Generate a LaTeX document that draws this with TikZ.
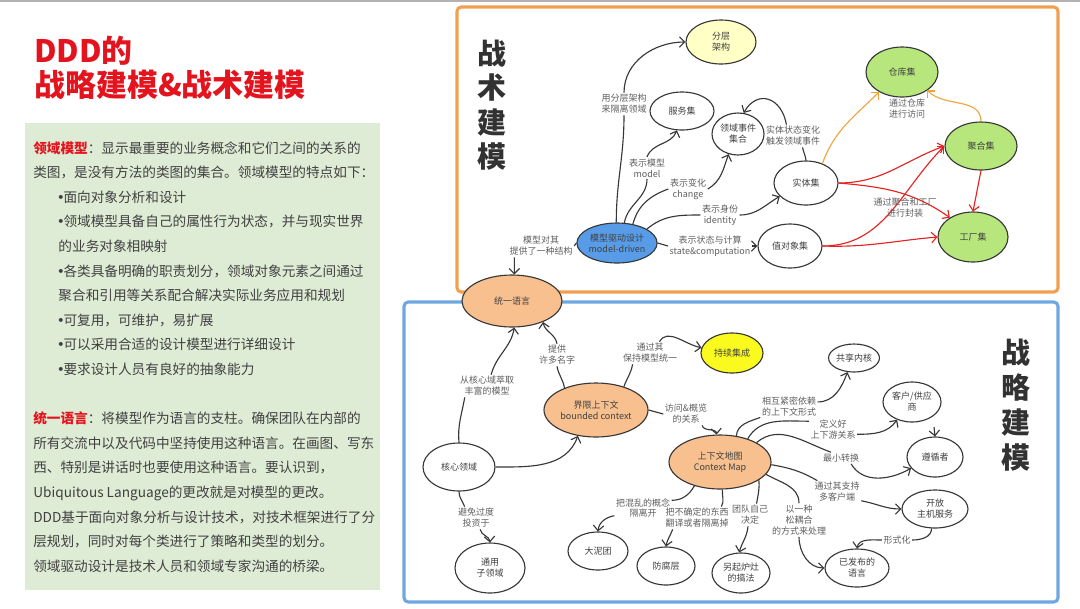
\documentclass[tikz,border=0pt]{standalone}
\usepackage{fontspec}
\setmainfont{Noto Sans CJK SC}
\newfontfamily\dotfont{DejaVu Sans}
\usetikzlibrary{positioning,arrows.meta,shapes.geometric}
\definecolor{titlered}{RGB}{228,20,30}
\definecolor{notegreen}{RGB}{222,236,214}
\definecolor{tacorange}{RGB}{240,160,80}
\definecolor{strblue}{RGB}{111,168,225}
\definecolor{nodeblue}{RGB}{88,156,232}
\definecolor{nodepeach}{RGB}{247,192,142}
\definecolor{nodegreen}{RGB}{182,230,124}
\definecolor{nodecream}{RGB}{255,255,198}
\definecolor{nodeyellow}{RGB}{250,250,30}
\definecolor{linegray}{RGB}{55,55,55}
\definecolor{labgray}{RGB}{95,95,95}
\definecolor{bodytext}{RGB}{64,64,64}
\definecolor{headgray}{RGB}{50,50,50}
\definecolor{redline}{RGB}{232,32,32}
\definecolor{orangeline}{RGB}{240,165,60}
\newcommand\bul{\hspace*{0.63cm}{\dotfont\kern-0.12em•\kern-0.1em}}

\begin{document}
\begin{tikzpicture}[
  x=0.025cm, y=0.025cm,
  sz/.style 2 args={minimum width=#1*0.025cm, minimum height=#2*0.025cm},
  setnode/.style={ellipse, draw=linegray, line width=0.8pt, fill=white,
                  inner sep=0pt, align=center, text=bodytext,
                  font=\fontsize{6.4}{7.8}\selectfont},
  corenode/.style={setnode, fill=nodepeach},
  aggrnode/.style={setnode, fill=nodegreen},
  lbl/.style={font=\fontsize{6.4}{7.8}\selectfont, text=labgray,
              align=center, inner sep=1pt},
  link/.style={line width=0.8pt, draw=linegray},
  arr/.style={link, -{Straight Barb[length=1.3mm,width=2.6mm]}},
  redarr/.style={arr, draw=redline},
  orgarr/.style={arr, draw=orangeline},
  vtitle/.style={font=\fontsize{20.6}{24.4}\selectfont\bfseries,
                 text=headgray, align=center, inner sep=0pt}
]
  \useasboundingbox (0,0) rectangle (1080,-608);
  \fill[white] (0,0) rectangle (1080,-608);
  \draw[black!30, line width=1pt] (0,-1) -- (1080,-1);

  % Left column
  \node[anchor=north west, inner sep=0pt, align=left, text=titlered,
        font=\fontsize{22}{23.8}\selectfont\bfseries] (title) at (34,-36)
    {DDD的\\战略建模\&战术建模};
  \fill[notegreen] (25,-123) rectangle (380,-590);
  \node[anchor=north west, inner sep=0pt, align=left, text=bodytext,
        font=\fontsize{9.7}{17.5}\selectfont] (notes) at (33,-141)
    {{\color{titlered}\bfseries 领域模型}：显示最重要的业务概念和它们之间的关系的\\
     类图，是没有方法的类图的集合。领域模型的特点如下：\\
     \bul 面向对象分析和设计\\
     \bul 领域模型具备自己的属性行为状态，并与现实世界\\
     \hspace*{0.63cm}的业务对象相映射\\
     \bul 各类具备明确的职责划分，领域对象元素之间通过\\
     \hspace*{0.63cm}聚合和引用等关系配合解决实际业务应用和规划\\
     \bul 可复用，可维护，易扩展\\
     \bul 可以采用合适的设计模型进行详细设计\\
     \bul 要求设计人员有良好的抽象能力\\[17.5pt]
     {\color{titlered}\bfseries 统一语言}：将模型作为语言的支柱。确保团队在内部的\\
     所有交流中以及代码中坚持使用这种语言。在画图、写东\\
     西、特别是讲话时也要使用这种语言。要认识到，\\
     Ubiquitous Language的更改就是对模型的更改。\\
     DDD基于面向对象分析与设计技术，对技术框架进行了分\\
     层规划，同时对每个类进行了策略和类型的划分。\\
     领域驱动设计是技术人员和领域专家沟通的桥梁。};

  % Frames
  \draw[tacorange, line width=2.2pt, rounded corners=3pt] (457,-7) rectangle (1058,-292);
  \draw[strblue, line width=2.2pt, rounded corners=3pt] (404,-302) rectangle (1058,-602);
  \node[vtitle] (tactic) at (492,-105) {战\\术\\建\\模};
  \node[vtitle, font=\fontsize{20.6}{25}\selectfont\bfseries] (strategy) at (1016,-405) {战\\略\\建\\模};

  % Tactical sets
  \node[setnode, sz={70}{44}, fill=nodecream] (layer) at (721,-42) {分层\\架构};
  \node[setnode, sz={64}{38}] (service) at (682,-111) {服务集};
  \node[setnode, sz={52}{42}] (events) at (738,-134) {领域事件\\集合};
  \node[setnode, sz={64}{44}] (entity) at (806,-183) {实体集};
  \node[setnode, sz={64}{44}] (value) at (790,-246) {值对象集};
  \node[setnode, sz={70}{40}, fill=nodeblue] (mdd) at (617,-243) {模型驱动设计\\model-driven};
  \node[aggrnode, sz={72}{50}] (repo) at (902,-72) {仓库集};
  \node[aggrnode, sz={72}{48}] (aggr) at (981,-146) {聚合集};
  \node[aggrnode, sz={70}{50}] (factory) at (973,-237) {工厂集};
  \node[corenode, sz={100}{52}] (ubiq) at (512,-301) {统一语言};

  \node[lbl] (lLayer) at (624,-104) {用分层架构\\来隔离领域};
  \node[lbl] (lModel) at (647,-168) {表示模型\\model};
  \node[lbl] (lChange) at (688,-189) {表示变化\\change};
  \node[lbl] (lIdent) at (720,-215) {表示身份\\identity};
  \node[lbl] (lState) at (710,-246) {表示状态与计算\\state\&computation};
  \node[lbl] (lStruct) at (541,-246) {模型对其\\提供了一种结构};
  \node[lbl] (lTrigger) at (793,-136) {实体状态变化\\触发领域事件};
  \node[lbl] (lRepo) at (907,-109) {通过仓库\\进行访问};

  \draw[link] (mdd.92) to[out=90,in=-90] (lLayer.south);
  \draw[arr] (lLayer.north) to[out=90,in=180] (layer.west);
  \draw[link] (mdd.70) to[out=80,in=-90] (lModel.south);
  \draw[arr] (lModel.north) to[out=70,in=-110] (service.-105);
  \draw[link] (mdd.50) to[out=75,in=200] (lChange.west);
  \draw[arr] (lChange.east) to[out=30,in=-110] (events.-115);
  \draw[link] (mdd.25) to[out=40,in=180] (lIdent.west);
  \draw[arr] (lIdent.east) to[out=0,in=-150] (entity.-153);
  \draw[link] (mdd.east) -- (lState.west);
  \draw[arr] (lState.east) -- (value.west);
  \draw[link] (mdd.west) -- (lStruct.east);
  \draw[arr] (lStruct.203) -- (ubiq.85);
  \draw[link] (entity.north) to[out=95,in=-80] (lTrigger.-50);
  \draw[arr] (lTrigger.120) to[out=100,in=60,looseness=1.6] (events.75);
  \draw[orgarr] (entity.50) to[out=70,in=-135] (repo.-139);
  \draw[orgarr] (aggr.north) to[out=90,in=-45] (repo.-36);
  \draw[redarr] (entity.east) to[out=0,in=200] (aggr.west);
  \draw[redarr] (entity.east) to[out=-5,in=145] (factory.140);
  \draw[redarr] (value.east) to[out=0,in=225] (aggr.west);
  \draw[redarr] (value.east) to[out=-2,in=185] (factory.west);
  \draw[redarr] (aggr.south) -- (factory.north);
  \node[lbl] (lPack) at (905,-208) {通过聚合和工厂\\进行封装};

  % Strategic contexts
  \node[corenode, sz={104}{54}] (bctx) at (596,-410) {界限上下文\\bounded context};
  \node[setnode, sz={72}{48}] (core) at (459,-467) {核心领域};
  \node[setnode, sz={70}{50}] (generic) at (490,-568) {通用\\子领域};
  \node[setnode, sz={62}{40}, fill=nodeyellow] (ci) at (732,-353) {持续集成};
  \node[corenode, sz={102}{54}] (cmap) at (720,-462) {上下文地图\\Context Map};
  \node[setnode, sz={60}{38}] (mud) at (598,-551) {大泥团};
  \node[setnode, sz={58}{38}] (acl) at (666,-566) {防腐层};
  \node[setnode, sz={58}{40}] (sep) at (741,-573) {另起炉灶\\的搞法};
  \node[setnode, sz={48}{28}] (shared) at (854,-358) {共享内核};
  \node[setnode, sz={58}{40}] (custsup) at (912,-402) {客户/供应\\商};
  \node[setnode, sz={56}{40}] (conform) at (935,-457) {遵循者};
  \node[setnode, sz={66}{38}] (ohs) at (935,-509) {开放\\主机服务};
  \node[setnode, sz={64}{38}] (pl) at (857,-568) {已发布的\\语言};

  \node[lbl] (lRich) at (487,-386) {从核心域萃取\\丰富的模型};
  \node[lbl] (lNames) at (557,-355) {提供\\许多名字};
  \node[lbl] (lAvoid) at (476,-518) {避免过度\\投资于};
  \node[lbl] (lUnify) at (650,-353) {通过其\\保持模型统一};
  \node[lbl] (lAccess) at (686,-414) {访问\&概览\\的关系};
  \node[lbl] (lTight) at (789,-407) {相互紧密依赖\\的上下文形式};
  \node[lbl] (lUpDown) at (833,-430) {定义好\\上下游关系};
  \node[lbl] (lMin) at (841,-458) {最小转换};
  \node[lbl] (lMulti) at (837,-492) {通过其支持\\多客户端};
  \node[lbl] (lFormal) at (897,-540) {形式化};
  \node[lbl] (lLoose) at (799,-520) {以一种\\松耦合\\的方式来处理};
  \node[lbl] (lTeam) at (750,-515) {团队自己\\决定};
  \node[lbl] (lTrans) at (697,-518) {把不确定的东西\\翻译或者隔离掉};
  \node[lbl] (lChaos) at (643,-508) {把混乱的概念\\隔离开};

  \draw[link] (core.north) to[out=95,in=-100] (lRich.-153);
  \draw[arr] (lRich.70) to[out=75,in=-100] (ubiq.-85);
  \draw[link] (bctx.145) to[out=100,in=-80] (lNames.south);
  \draw[arr] (lNames.north) to[out=100,in=-80] (ubiq.-34);
  \draw[arr] (core.east) to[out=0,in=-110] (bctx.-125);
  \draw[link] (core.south) to[out=-90,in=110] (lAvoid.135);
  \draw[arr] (lAvoid.-70) to[out=-80,in=95] (generic.north);
  \draw[link] (bctx.40) to[out=70,in=-100] (lUnify.-147);
  \draw[arr] (lUnify.50) to[out=60,in=170] (ci.170);
  \draw[link] (bctx.east) -- (lAccess.west);
  \draw[arr] (lAccess.-35) to[out=-80,in=95] (cmap.97);
  \draw[link] (cmap.58) to[out=85,in=-160] (lTight.200);
  \draw[arr] (lTight.10) to[out=0,in=-110] (shared.-115);
  \draw[link] (cmap.40) to[out=60,in=180] (lUpDown.160);
  \draw[arr] (lUpDown.-10) to[out=0,in=-125] (custsup.-130);
  \draw[link] (cmap.28) to[out=40,in=160] (lMin.150);
  \draw[arr] (lMin.-30) to[out=-60,in=-150] (conform.-155);
  \coordinate (strayTip) at (934,-427);
  \draw[arr] (strayTip) -- (conform.north);
  \draw[link] (cmap.-3) to[out=-10,in=150] (lMulti.150);
  \draw[arr] (lMulti.-20) to[out=-10,in=180] (ohs.west);
  \draw[link] (ohs.-100) to[out=-90,in=0] (lFormal.east);
  \draw[arr] (lFormal.west) to[out=180,in=80] (pl.north);
  \draw[link] (cmap.-15) to[out=-30,in=90] (lLoose.north);
  \draw[arr] (lLoose.south) to[out=-90,in=180] (pl.west);
  \draw[link] (cmap.-25) to[out=-85,in=80] (lTeam.60);
  \draw[arr] (lTeam.-100) to[out=-95,in=75] (sep.95);
  \draw[link] (cmap.-85) to[out=-95,in=60] (lTrans.25);
  \draw[arr] (lTrans.-155) to[out=-110,in=80] (acl.north);
  \draw[link] (cmap.-137) to[out=-120,in=0] (lChaos.15);
  \draw[arr] (lChaos.195) to[out=190,in=85] (mud.north);
\end{tikzpicture}
\end{document}
